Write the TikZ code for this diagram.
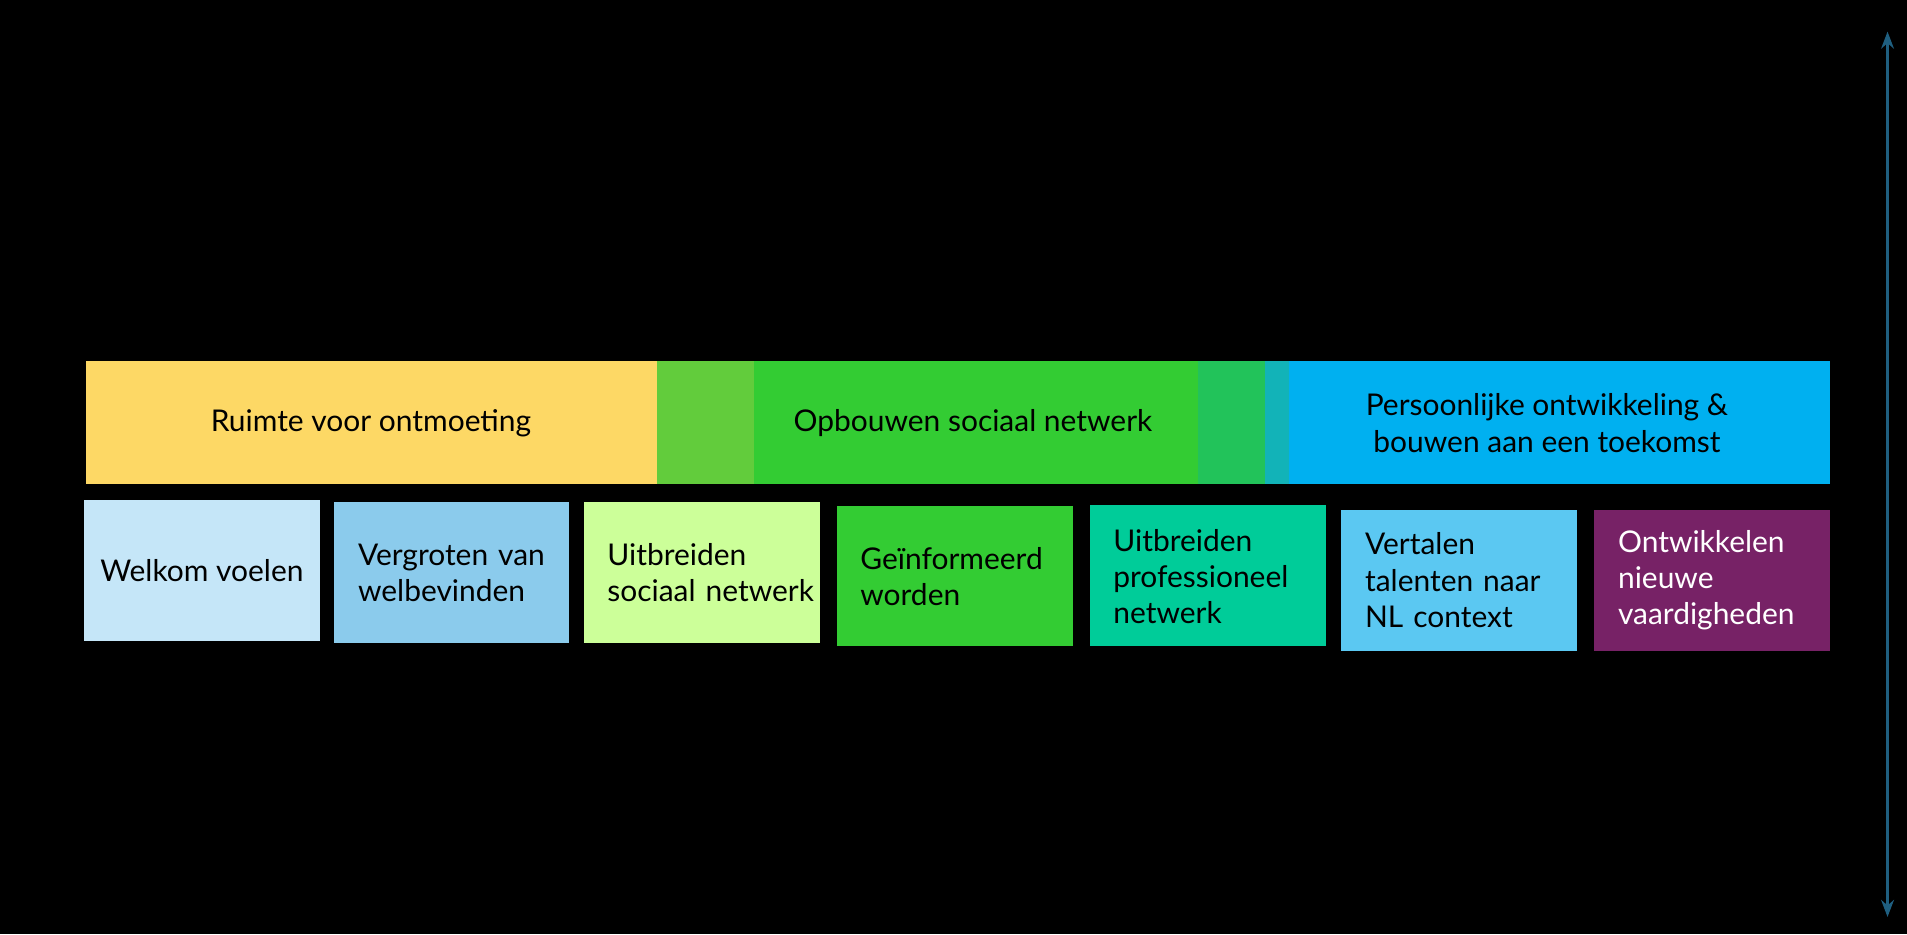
\documentclass[tikz,border=0pt]{standalone}
\usepackage{fontspec}
\setmainfont{Lato}
\usetikzlibrary{arrows.meta}
\definecolor{geel}{HTML}{FDD865}
\definecolor{lgroen}{HTML}{62CC3C}
\definecolor{groen}{HTML}{33CC33}
\definecolor{mgroen}{HTML}{22C35A}
\definecolor{tgroen}{HTML}{12B3B8}
\definecolor{blauw}{HTML}{00B0F0}
\definecolor{lblauw}{HTML}{C5E6F8}
\definecolor{mblauw}{HTML}{8BCBEC}
\definecolor{lime}{HTML}{CCFF99}
\definecolor{turk}{HTML}{00CC99}
\definecolor{hblauw}{HTML}{5BC8F2}
\definecolor{paars}{HTML}{772266}
\definecolor{pijl}{HTML}{1F5F80}
\tikzset{
  band/.style={font=\fontsize{7}{8.5}\selectfont, align=center},
  blok/.style={font=\fontsize{7}{8.5}\selectfont, align=left, anchor=west, text width=1.75cm}
}
\begin{document}
\begin{tikzpicture}[x=0.01cm,y=-0.01cm]
\fill[black] (0,0) rectangle (1568,768);
% bovenste balk
\fill[geel] (71,297) rectangle (540,398);
\fill[lgroen] (540,297) rectangle (620,398);
\fill[groen] (620,297) rectangle (985,398);
\fill[mgroen] (985,297) rectangle (1040,398);
\fill[tgroen] (1040,297) rectangle (1060,398);
\fill[blauw] (1060,297) rectangle (1505,398);
\node[band] (ruimte) at (305,348) {Ruimte voor ontmoeting};
\node[band] (opbouw) at (800,348) {Opbouwen sociaal netwerk};
\node[band] (perso) at (1272,348) {Persoonlijke ontwikkeling \&\\bouwen aan een toekomst};
% blokken
\fill[lblauw] (69,411) rectangle (263,527);
\node[band] (welkom) at (166,469) {Welkom voelen};
\fill[mblauw] (275,413) rectangle (468,529);
\node[blok] (vergroot) at (282,471) {Vergroten van\\welbevinden};
\fill[lime] (480,413) rectangle (674,529);
\node[blok] (uitsoc) at (487,471) {Uitbreiden\\sociaal netwerk};
\fill[groen] (688,416) rectangle (882,531);
\node[blok] (geinf) at (695,474) {Geïnformeerd\\worden};
\fill[turk] (896,415) rectangle (1090,531);
\node[blok] (uitprof) at (903,474) {Uitbreiden\\professioneel\\netwerk};
\fill[hblauw] (1103,419) rectangle (1297,535);
\node[blok] (vertaal) at (1110,477) {Vertalen\\talenten naar\\NL context};
\fill[paars] (1311,419) rectangle (1505,535);
\node[blok, white] (ontw) at (1318,477) {Ontwikkelen\\nieuwe\\vaardigheden};
% pijl
\coordinate (boven) at (1552,26);
\coordinate (onder) at (1552,754);
\draw[pijl, line width=0.03cm, {Stealth[length=0.14cm]}-{Stealth[length=0.14cm]}] (boven) -- (onder);
\end{tikzpicture}
\end{document}
